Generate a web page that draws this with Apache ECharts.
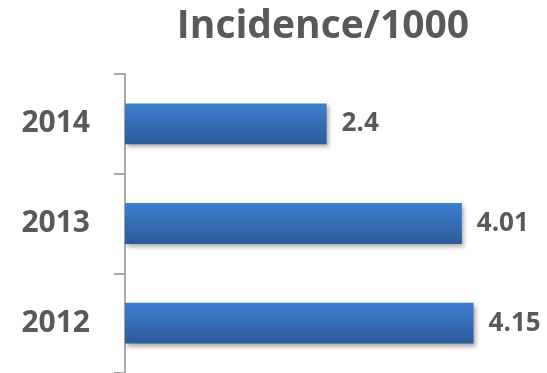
<!DOCTYPE html>
<html>
<head>
<meta charset="utf-8">
<script src="https://cdn.jsdelivr.net/npm/echarts@6/dist/echarts.min.js"></script>
<style>
  html, body { margin: 0; padding: 0; background: #fff; }
  #chart { width: 547px; height: 373px; }
</style>
</head>
<body>
<div id="chart"></div>
<script>
(function () {
  var years = ['2012', '2013', '2014'];
  var incidence = [4.15, 4.01, 2.4];
  var ink = '#595959';

  var chart = echarts.init(document.getElementById('chart'), null, { renderer: 'canvas' });
  chart.setOption({
    animation: false,
    title: {
      text: 'Incidence/1000',
      left: 318,
      textAlign: 'center',
      top: 2,
      textStyle: { color: ink, fontFamily: 'Open Sans', fontWeight: 'bold', fontSize: 39 }
    },
    grid: { left: 125, right: 2, top: 74, bottom: -1, containLabel: false },
    xAxis: {
      type: 'value',
      min: 0,
      max: 5,
      show: false
    },
    yAxis: {
      type: 'category',
      data: years,
      axisLine: { show: true, lineStyle: { color: '#8c8c8c', width: 1.5 } },
      axisTick: { show: true, length: 11, lineStyle: { color: '#8c8c8c', width: 1.5 } },
      axisLabel: { color: ink, fontFamily: 'Open Sans', fontWeight: 'bold', fontSize: 30, margin: 35 },
      splitLine: { show: false }
    },
    series: [{
      type: 'bar',
      data: incidence,
      barWidth: '41%',
      itemStyle: {
        color: new echarts.graphic.LinearGradient(0, 0, 0, 1, [
          { offset: 0, color: '#3d7fd2' },
          { offset: 1, color: '#2c5a98' }
        ]),
        shadowColor: 'rgba(0,0,0,0.3)',
        shadowBlur: 4,
        shadowOffsetX: 2,
        shadowOffsetY: 3
      },
      label: {
        show: true,
        position: 'right',
        distance: 15,
        color: ink,
        fontFamily: 'Open Sans',
        fontWeight: 'bold',
        fontSize: 26
      }
    }]
  });
})();
</script>
</body>
</html>
